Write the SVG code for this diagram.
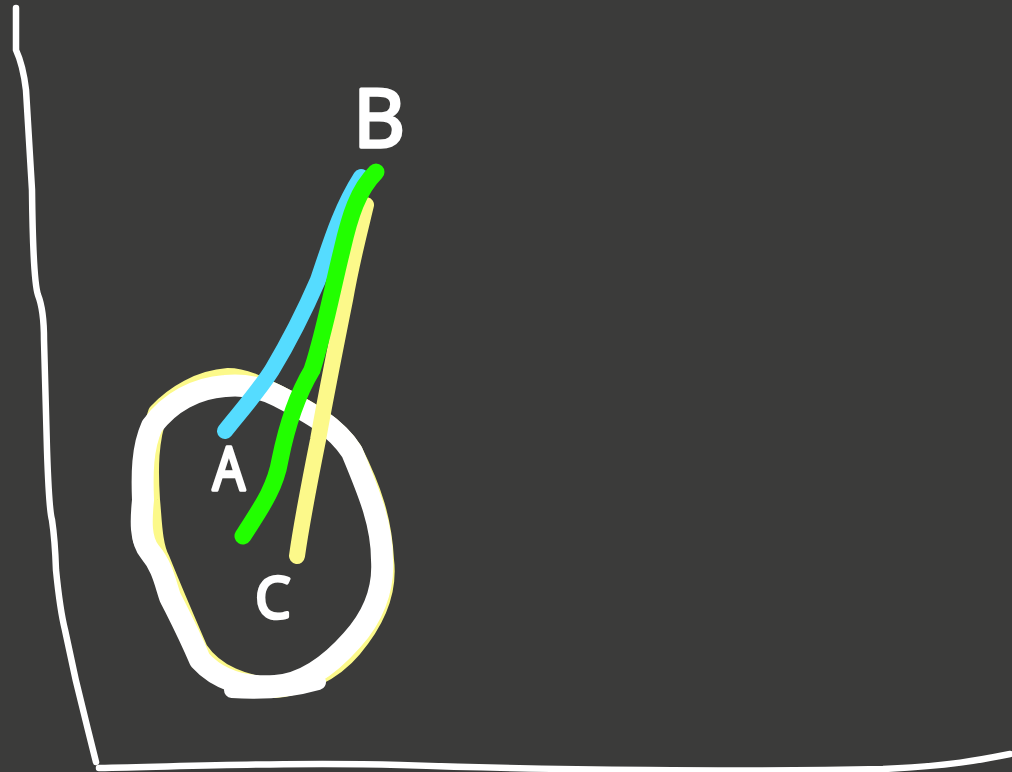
<svg xmlns="http://www.w3.org/2000/svg" width="1012" height="772" viewBox="0 0 1012 772">
<style>
.s{fill:none;stroke-linecap:round;stroke-linejoin:round}
.ax{stroke:#ffffff;stroke-width:6.5}
.lbl{font-family:"Open Sans","Liberation Sans",sans-serif;fill:#ffffff;stroke:#ffffff;stroke-width:3.5;stroke-linejoin:round;text-anchor:middle}
</style>
<rect width="1012" height="772" fill="#3b3b3a"/>
<g id="axes">
<path class="s ax" d="M16,8 L16,50 Q23,65 26,90 L32,190 Q33,280 38,295 Q44,310 44,340 L47,450 Q49,510 52,520 Q55,540 56,570 Q60,610 65,630 Q75,680 88,730 L96,762"/>
<path class="s ax" d="M99,768 C200,766 300,762 400,765 C550,770 750,772 883,769 C950,766 980,760 1010,754"/>
</g>
<g id="circle">
<path class="s" stroke="#fcf98a" stroke-width="20" d="M228,378 C200,380 175,395 158,413 C148,440 148,470 150,500 C152,520 152,545 160,560 C172,590 185,620 198,650 C215,675 245,686 275,688 C300,686 332,672 352,648 C374,622 388,592 384,560 C382,520 372,490 352,450 C335,425 305,408 278,395 C262,387 245,378 228,378 Z"/>
<path class="s" stroke="#ffffff" stroke-width="22" d="M225,386 C196,388 170,402 152,426 C142,448 142,475 143,500 C141,520 140,540 150,552 C162,566 165,582 170,597 C180,617 188,632 200,660 C218,680 245,688 275,686 C305,684 330,665 352,640 C372,618 384,590 382,560 C382,525 370,495 352,452 C335,425 305,410 278,396 C260,387 243,384 225,386 Z"/>
<path class="s" stroke="#ffffff" stroke-width="16" d="M232,690 C260,692 290,690 318,682"/>
<path class="s" stroke="#ffffff" stroke-width="14" d="M140,510 L140,540"/>
</g>
<g id="connectors">
<path class="s" stroke="#fcf98a" stroke-width="16" d="M297,556 C302,520 310,480 318,440 C325,400 335,350 345,300 C352,260 360,230 366,205"/>
<path class="s" stroke="#55dcff" stroke-width="16" d="M225,431 C240,412 258,392 272,370 C290,340 305,310 318,280 C330,245 340,210 361,177"/>
<path class="s" stroke="#22ff00" stroke-width="17" d="M243,536 C258,512 275,490 280,460 C288,420 300,390 312,370 C325,330 332,290 342,250 C350,215 358,190 376,172"/>
</g>
<g id="node-B"><text class="lbl" x="379" y="147" font-size="80">B</text></g>
<g id="node-A"><text class="lbl" x="229" y="490" font-size="60" transform="translate(229,0) scale(0.85,1) translate(-229,0)">A</text></g>
<g id="node-C"><text class="lbl" x="273" y="618" font-size="56">C</text></g>
</svg>
